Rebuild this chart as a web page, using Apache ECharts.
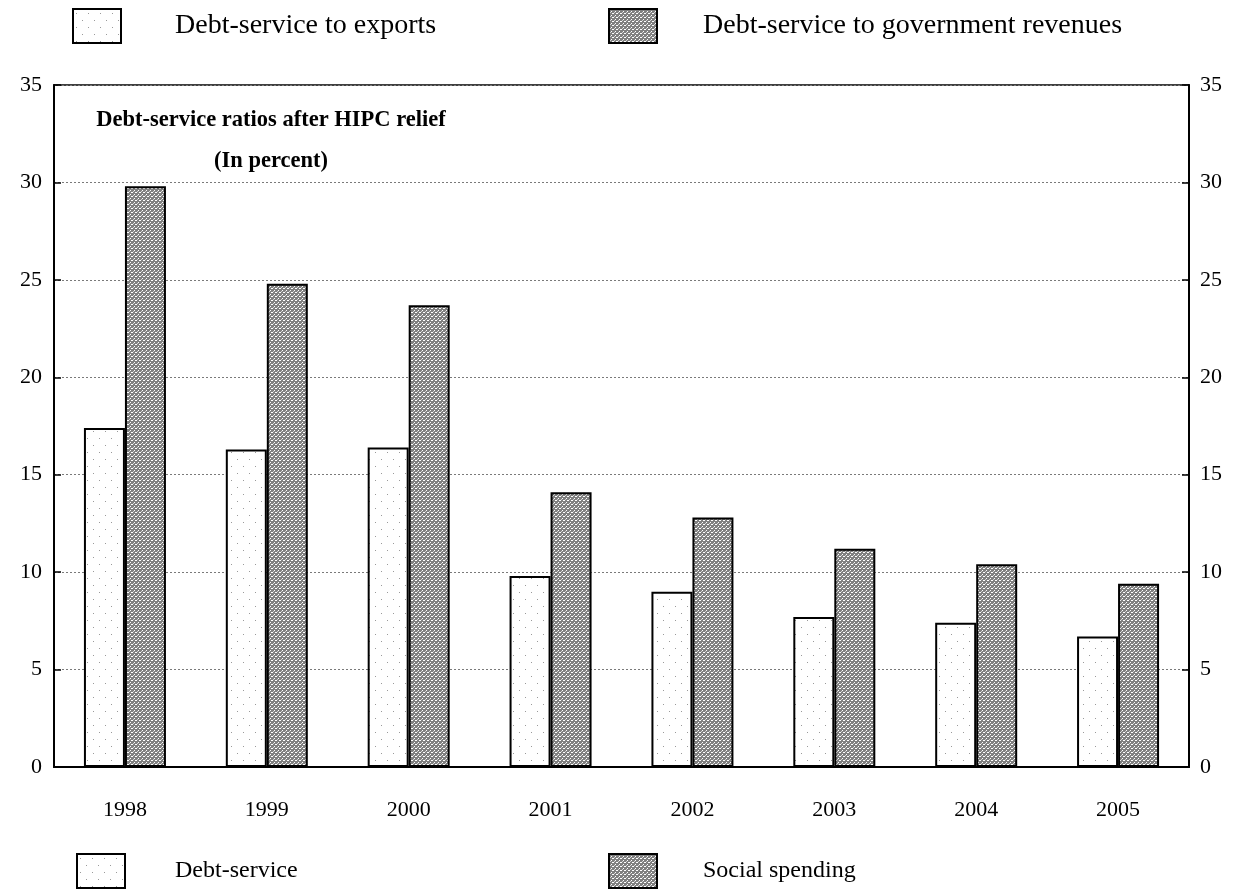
<!DOCTYPE html>
<html>
<head>
<meta charset="utf-8">
<script src="https://cdn.jsdelivr.net/npm/echarts@6/dist/echarts.min.js"></script>
<style>
  html, body { margin: 0; padding: 0; background: #ffffff; }
  #chart { width: 1240px; height: 890px; }
</style>
</head>
<body>
<div id="chart"></div>
<script>
// Debt-service ratios after HIPC relief, in percent
const years = ['1998', '1999', '2000', '2001', '2002', '2003', '2004', '2005'];
const toExports = [17.4, 16.3, 16.4, 9.8, 9.0, 7.7, 7.4, 6.7];
const toRevenues = [29.8, 24.8, 23.7, 14.1, 12.8, 11.2, 10.4, 9.4];
const yTicks = [0, 5, 10, 15, 20, 25, 30, 35];

const SERIF = '"Liberation Serif", "Times New Roman", serif';

// Halftone-like fill for the grey bars
function greyPattern() {
  const c = document.createElement('canvas');
  c.width = 4; c.height = 4;
  const g = c.getContext('2d');
  g.fillStyle = '#808080';
  g.fillRect(0, 0, 4, 4);
  g.fillStyle = '#ffffff';
  g.fillRect(0, 0, 1, 1);
  g.fillRect(2, 2, 1, 1);
  g.fillRect(3, 0, 1, 1);
  g.fillStyle = '#d0d0d0';
  g.fillRect(1, 3, 1, 1);
  return { image: c, repeat: 'repeat' };
}

// Sparse dotted fill for the white bars
function dotPattern() {
  const c = document.createElement('canvas');
  c.width = 12; c.height = 14;
  const g = c.getContext('2d');
  g.fillStyle = '#ffffff';
  g.fillRect(0, 0, 12, 14);
  g.fillStyle = '#9a9a9a';
  g.fillRect(3, 4, 1, 1);
  g.fillRect(9, 11, 1, 1);
  return { image: c, repeat: 'repeat' };
}

const whiteStyle = { color: dotPattern(), borderColor: '#000000', borderWidth: 2 };
const greyStyle = { color: greyPattern(), borderColor: '#000000', borderWidth: 2 };

const chart = echarts.init(document.getElementById('chart'), null, { renderer: 'canvas' });

function legendAt(name, left, top, style, textLeft, size, padTop) {
  return {
    data: [name],
    left: left, top: top,
    itemWidth: 48, itemHeight: 34,
    icon: 'rect',
    selectedMode: false,
    padding: 0,
    textStyle: { fontFamily: SERIF, fontSize: size, color: '#000000', padding: [padTop, 0, 0, textLeft] },
    itemStyle: style
  };
}

chart.setOption({
  backgroundColor: '#ffffff',
  animation: false,
  title: {
    text: 'Debt-service ratios after HIPC relief\n(In percent)',
    left: 266, top: 95,
    textAlign: 'center',
    textStyle: { fontFamily: SERIF, fontSize: 22.5, fontWeight: 'bold', color: '#000000', lineHeight: 41 }
  },
  legend: [
    legendAt('Debt-service to exports', 72, 8, whiteStyle, 49, 28, 9),
    legendAt('Debt-service to government revenues', 608, 8, greyStyle, 41, 28, 9),
    legendAt('Debt-service', 76, 853, whiteStyle, 45, 24, 3),
    legendAt('Social spending', 608, 853, greyStyle, 41, 24, 3)
  ],
  grid: {
    left: 54, right: 51, top: 85, bottom: 123,
    show: true, borderColor: '#000000', borderWidth: 1.5, backgroundColor: 'transparent'
  },
  xAxis: [{
    type: 'category',
    data: years,
    axisLine: { lineStyle: { color: '#000000', width: 2 } },
    axisTick: { inside: true, length: 9, lineStyle: { color: '#000000', width: 1.5 } },
    axisLabel: { fontFamily: SERIF, fontSize: 22, color: '#000000', margin: 32 },
    splitLine: { show: false }
  }, {
    type: 'category',
    data: years,
    show: false
  }],
  yAxis: [{
    type: 'value',
    min: 0, max: 35, interval: 5,
    axisLine: { show: true, lineStyle: { color: '#000000', width: 2 } },
    axisTick: { show: true, inside: true, length: 7, lineStyle: { color: '#000000', width: 1.5 } },
    axisLabel: { fontFamily: SERIF, fontSize: 22, color: '#000000', margin: 12,
      customValues: yTicks },
    splitLine: { show: true, lineStyle: { color: '#7a7a7a', width: 1, type: [2, 2] } }
  }, {
    type: 'value',
    position: 'right',
    min: 0, max: 35, interval: 5,
    axisLine: { show: true, lineStyle: { color: '#000000', width: 2 } },
    axisTick: { show: true, inside: true, length: 7, lineStyle: { color: '#000000', width: 1.5 } },
    axisLabel: { fontFamily: SERIF, fontSize: 22, color: '#000000', margin: 11 },
    splitLine: { show: false }
  }],
  series: [{
    name: 'Debt-service to exports',
    type: 'bar',
    data: toExports,
    barWidth: 41,
    barGap: '0%',
    itemStyle: whiteStyle
  }, {
    name: 'Debt-service to government revenues',
    type: 'bar',
    data: toRevenues,
    barWidth: 41,
    barGap: '0%',
    itemStyle: greyStyle
  }, {
    // legend-only entries for the lower key
    name: 'Debt-service',
    type: 'bar',
    xAxisIndex: 1,
    data: [],
    itemStyle: whiteStyle
  }, {
    name: 'Social spending',
    type: 'bar',
    xAxisIndex: 1,
    data: [],
    itemStyle: greyStyle
  }]
});
</script>
</body>
</html>
